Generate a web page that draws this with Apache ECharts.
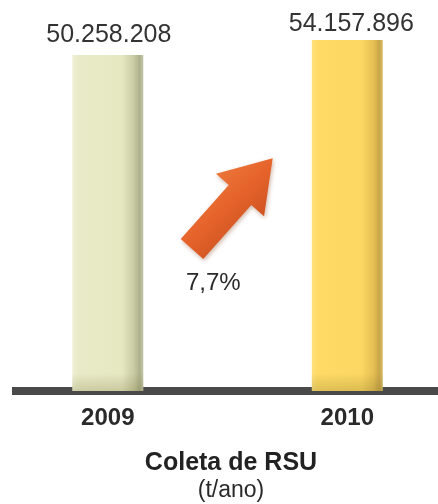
<!DOCTYPE html>
<html>
<head>
<meta charset="utf-8">
<script src="https://cdn.jsdelivr.net/npm/echarts@6/dist/echarts.min.js"></script>
<style>
  html, body { margin: 0; padding: 0; background: #ffffff; }
  #chart { width: 438px; height: 504px; }
</style>
</head>
<body>
<div id="chart"></div>
<script>
// Municipal solid waste collected (tonnes per year)
const years = ['2009', '2010'];
const collected = [50258208, 54157896];
const growthPct = [7.7];
const titleText = 'Coleta de RSU';
const unitText = '(t/ano)';

const FONT = '"Liberation Sans", Arial, sans-serif';
const Y_MIN = -37000000;
const Y_MAX = 54157896;
const X_MIN = -0.4;
const X_MAX = 1.3787;
const BAR_W = 71;

// Brazilian-style thousands separator
function fmt(n) {
  return String(Math.round(n)).replace(/\B(?=(\d{3})+(?!\d))/g, '.');
}

// Bar faces with a shaded right edge for a bevelled look
const barFaces = [
  [['#eff0d6', 0], ['#e9ebc8', 0.08], ['#e6e8c2', 0.7], ['#c8caa3', 0.87], ['#adb08a', 0.95], ['#c6c8aa', 1]],
  [['#ffe27e', 0], ['#ffdb66', 0.08], ['#fcd761', 0.7], ['#e6bf54', 0.87], ['#c9a548', 0.95], ['#dcbd6a', 1]]
];
const labelOffsets = [[1, 0], [4, 4]];

function face(stops) {
  return new echarts.graphic.LinearGradient(0, 0, 1, 0,
    stops.map(s => ({ color: s[0], offset: s[1] })));
}

// Up-right arrow built along its own axis, then placed between the bars
function arrowPoints() {
  const ox = 192, oy = 249;
  const ux = 0.667, uy = -0.75;   // along the arrow
  const vx = 0.75, vy = 0.667;    // across the arrow
  const local = [[0, -15], [72, -15], [72, -32], [121, 0], [72, 32], [72, 15], [0, 15]];
  return local.map(p => [ox + p[0] * ux + p[1] * vx, oy + p[0] * uy + p[1] * vy]);
}

// Each column rises from the bottom of the value axis up to its value
function renderColumn(params, api) {
  const i = params.dataIndex;
  const v = api.value(1);
  const top = api.coord([api.value(0), v]);
  const base = api.coord([api.value(0), Y_MIN]);
  const h = base[1] - top[1];
  const off = labelOffsets[i];
  return {
    type: 'group',
    children: [
      {
        type: 'rect',
        shape: { x: top[0] - BAR_W / 2, y: top[1], width: BAR_W, height: h },
        style: { fill: face(barFaces[i]) }
      },
      {
        // soft shade where the column meets the baseline
        type: 'rect',
        shape: { x: top[0] - BAR_W / 2, y: base[1] - 18, width: BAR_W, height: 18 },
        style: {
          fill: new echarts.graphic.LinearGradient(0, 0, 0, 1, [
            { offset: 0, color: 'rgba(90,80,20,0)' },
            { offset: 1, color: 'rgba(90,80,20,0.2)' }
          ])
        }
      },
      {
        type: 'text',
        x: top[0] + off[0],
        y: top[1] - 7 + off[1],
        style: {
          text: fmt(v),
          align: 'center',
          verticalAlign: 'bottom',
          fontFamily: FONT,
          fontSize: 25,
          fill: '#333333'
        }
      }
    ]
  };
}

const chart = echarts.init(document.getElementById('chart'), null, { renderer: 'canvas' });

chart.setOption({
  backgroundColor: '#ffffff',
  animation: false,
  title: {
    text: titleText,
    subtext: unitText,
    left: 226,
    top: 446,
    textAlign: 'center',
    itemGap: 3,
    textStyle: { fontFamily: FONT, fontSize: 25, fontWeight: 'bold', color: '#222222' },
    subtextStyle: { fontFamily: FONT, fontSize: 23, color: '#2a2a2a' }
  },
  grid: { left: 12, right: 0, top: 40, bottom: 113 },
  xAxis: {
    type: 'value',
    min: X_MIN,
    max: X_MAX,
    splitLine: { show: false },
    axisLine: { show: true, onZero: false, lineStyle: { color: '#4a4a4a', width: 8, cap: 'butt' } },
    axisTick: { show: false },
    axisLabel: {
      customValues: [0, 1],
      margin: 15,
      fontFamily: FONT,
      fontSize: 24,
      fontWeight: 'bold',
      color: '#2a2a2a',
      formatter: v => years[Math.round(v)]
    }
  },
  yAxis: { type: 'value', min: Y_MIN, max: Y_MAX, show: false },
  series: [
    {
      type: 'custom',
      z: 1,
      clip: false,
      renderItem: renderColumn,
      encode: { x: 0, y: 1 },
      data: collected.map((v, i) => [i, v])
    }
  ],
  graphic: [
    {
      type: 'polygon',
      z: 10,
      shape: { points: arrowPoints() },
      style: {
        fill: new echarts.graphic.LinearGradient(0, 0, 1, 1, [
          { offset: 0, color: '#f28a4a' },
          { offset: 0.5, color: '#e5622a' },
          { offset: 1, color: '#b4441a' }
        ]),
        shadowBlur: 4,
        shadowColor: 'rgba(120,50,10,0.35)',
        shadowOffsetX: 1,
        shadowOffsetY: 2
      }
    },
    {
      type: 'text',
      z: 10,
      left: 186,
      top: 271,
      style: {
        text: String(growthPct[0]).replace('.', ',') + '%',
        fontFamily: FONT,
        fontSize: 24,
        fill: '#2a2a2a'
      }
    }
  ]
});
</script>
</body>
</html>
